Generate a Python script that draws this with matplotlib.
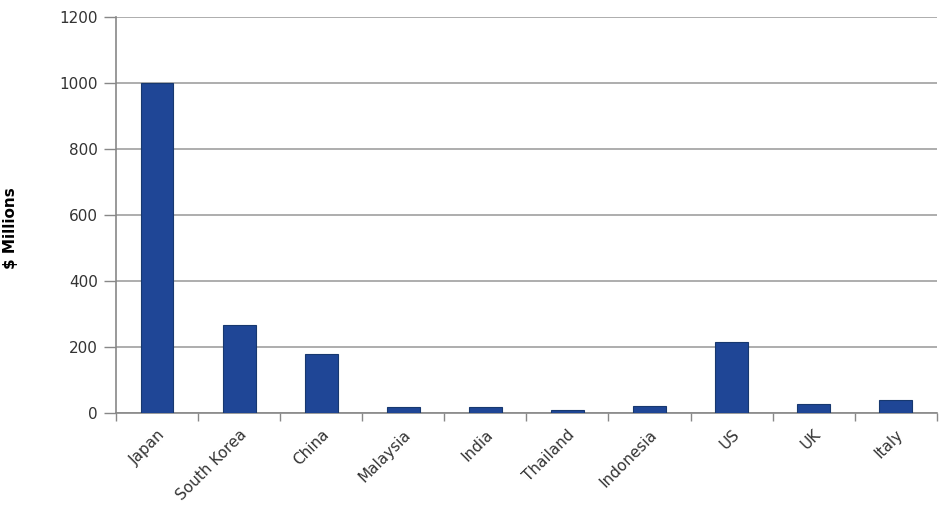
import matplotlib.pyplot as plt
import numpy as np

countries = ["Japan", "South Korea", "China", "Malaysia", "India",
             "Thailand", "Indonesia", "US", "UK", "Italy"]
values = [1000, 267, 179, 19, 19, 9, 22, 216, 28, 40]
yticks = [0, 200, 400, 600, 800, 1000, 1200]

fig = plt.figure(figsize=(9.51, 5.05), dpi=100)
ax = fig.add_axes([0.122, 0.182, 0.863, 0.784])

x = np.arange(len(countries))
ax.bar(x, values, width=0.4, color="#1f4696", edgecolor="#17386f",
       linewidth=0.8, zorder=3)

ax.set_ylim(0, 1200)
ax.set_xlim(-0.5, len(countries) - 0.5)
ax.set_yticks(yticks)
ax.set_yticklabels([str(v) for v in yticks], fontsize=11, color="#333333")
ax.yaxis.grid(True, color="#a0a0a0", linewidth=1.2, zorder=0)
ax.tick_params(axis="y", length=9, width=1, color="#888888", pad=4)

ax.set_xticks(x)
ax.set_xticklabels(countries, rotation=45, ha="right", rotation_mode="anchor",
                   fontsize=11, color="#333333")
ax.set_xticks(np.arange(-0.5, len(countries)), minor=True)
ax.tick_params(axis="x", which="major", length=0, pad=10)
ax.tick_params(axis="x", which="minor", length=6, width=1, color="#888888")

for side in ("top", "right"):
    ax.spines[side].set_visible(False)
for side in ("left", "bottom"):
    ax.spines[side].set_color("#888888")
    ax.spines[side].set_linewidth(1.2)

ax.set_ylabel("$ Millions", fontsize=11, fontweight="bold")
ax.yaxis.set_label_coords(-0.119, 0.467)

fig.savefig("out.png", dpi=100)
